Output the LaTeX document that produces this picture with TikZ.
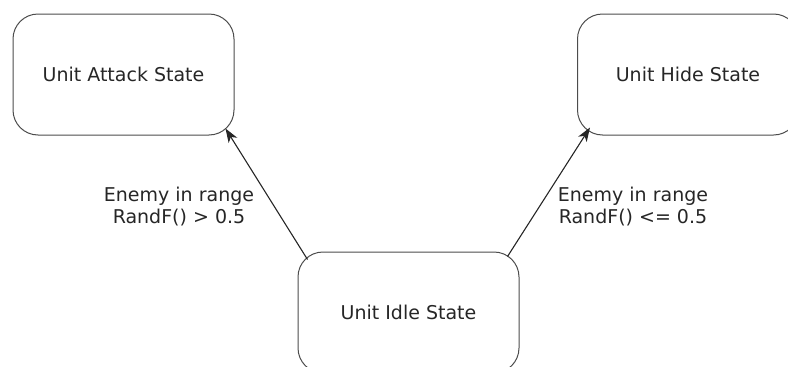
\documentclass[tikz,border=0pt]{standalone}
\usepackage{fontspec}
\setmainfont{DejaVu Sans}
\usepackage{xcolor}
\usetikzlibrary{calc,arrows.meta,positioning}

\begin{document}
\begin{tikzpicture}[x=1pt,y=-1pt,
    statebox/.style={draw=black!70,line width=1pt,rounded corners=25pt,minimum width=221pt,minimum height=121pt,inner sep=0pt,text=black!85,font=\fontsize{19}{22}\selectfont},
    trans/.style={draw=black!85,line width=1.1pt,-{Stealth[length=14pt,width=10pt,inset=4pt]}},
    cond/.style={align=center,text=black!85,font=\fontsize{19}{22}\selectfont}]
        \useasboundingbox (0,0) rectangle (788,367);
        \clip (0,0) rectangle (788,367);
        \node[statebox] (attack) at (123.5,74.5) {Unit Attack State};
        \node[statebox] (hide) at (688,74.5) {Unit Hide State};
        \node[statebox] (idle) at (408.5,312.5) {Unit Idle State};
        \coordinate (idle-l) at ($(idle.north west)+(10,8)$);
        \coordinate (idle-r) at ($(idle.north east)+(-12,5)$);
        \coordinate (attack-in) at ($(attack.south east)+(-9,-7)$);
        \coordinate (hide-in) at ($(hide.south west)+(13,-8)$);
        \draw[trans] (idle-l)--(attack-in);
        \draw[trans] (idle-r)--(hide-in);
        \node[cond] (cond-attack) at (179,207) {Enemy in range\\RandF() > 0.5};
        \node[cond] (cond-hide) at (633,207) {Enemy in range\\RandF() <= 0.5};
      \end{tikzpicture}
\end{document}
